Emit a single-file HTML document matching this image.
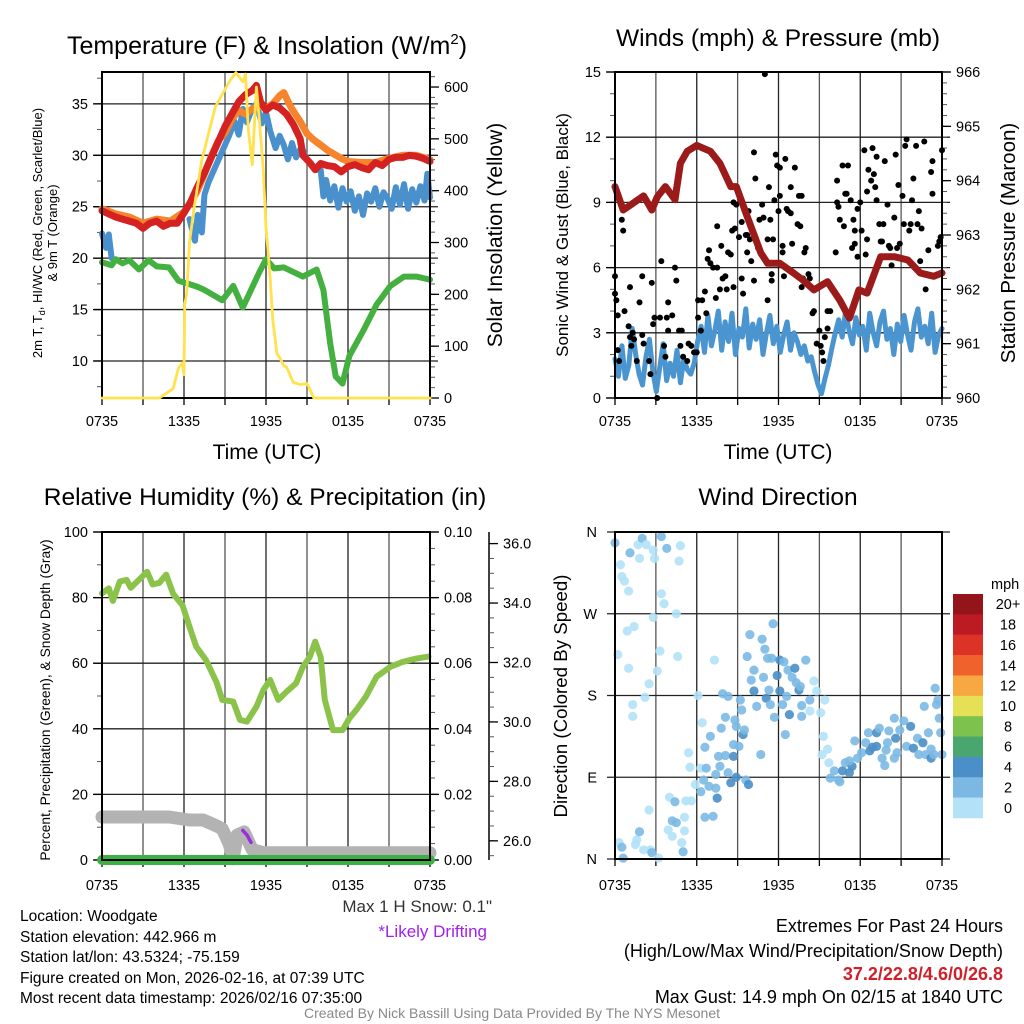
<!DOCTYPE html>
<html><head><meta charset="utf-8"><style>
body{margin:0;background:#fff}
svg{display:block;font-family:"Liberation Sans",sans-serif}
</style></head><body>
<svg id="chart" xmlns="http://www.w3.org/2000/svg" width="1024" height="1024" viewBox="0 0 1024 1024">
<text x="267" y="54" font-size="25" text-anchor="middle">Temperature (F) &amp; Insolation (W/m<tspan dy="-10" font-size="15">2</tspan><tspan dy="10">)</tspan></text>
<text x="778" y="46" font-size="24.5" text-anchor="middle">Winds (mph) &amp; Pressure (mb)</text>
<text x="265" y="505" font-size="24.5" text-anchor="middle">Relative Humidity (%) &amp; Precipitation (in)</text>
<text x="778" y="505" font-size="24.5" text-anchor="middle">Wind Direction</text>
<text x="267" y="459" font-size="21" text-anchor="middle">Time (UTC)</text>
<text x="778" y="459" font-size="21" text-anchor="middle">Time (UTC)</text>
<text transform="translate(42,233) rotate(-90)" font-size="13" text-anchor="middle">2m T, T<tspan dy="3" font-size="9">d</tspan><tspan dy="-3">, HI/WC (Red, Green, Scarlet/Blue)</tspan></text>
<text transform="translate(57,233) rotate(-90)" font-size="13" text-anchor="middle">&amp; 9m T (Orange)</text>
<text transform="translate(502,235) rotate(-90)" font-size="21" text-anchor="middle">Solar Insolation (Yellow)</text>
<text transform="translate(568,235) rotate(-90)" font-size="17" text-anchor="middle">Sonic Wind &amp; Gust (Blue, Black)</text>
<text transform="translate(1015,243) rotate(-90)" font-size="20.5" text-anchor="middle">Station Pressure (Maroon)</text>
<text transform="translate(50,700) rotate(-90)" font-size="13.8" text-anchor="middle">Percent, Precipitation (Green), &amp; Snow Depth (Gray)</text>
<text transform="translate(567,696) rotate(-90)" font-size="18.7" text-anchor="middle">Direction (Colored By Speed)</text>
<g font-size="15.5">
<text x="20" y="921">Location: Woodgate</text>
<text x="20" y="942">Station elevation: 442.966 m</text>
<text x="20" y="962">Station lat/lon: 43.5324; -75.159</text>
<text x="20" y="983">Figure created on Mon, 2026-02-16, at 07:39 UTC</text>
<text x="20" y="1003">Most recent data timestamp: 2026/02/16 07:35:00</text>
</g>
<text x="492" y="912" font-size="17" text-anchor="end" fill="#333">Max 1 H Snow: 0.1"</text>
<text x="487" y="937" font-size="17" text-anchor="end" fill="#a020f0">*Likely Drifting</text>
<g font-size="18" text-anchor="end">
<text x="1003" y="932">Extremes For Past 24 Hours</text>
<text x="1003" y="957">(High/Low/Max Wind/Precipitation/Snow Depth)</text>
<text x="1003" y="980" fill="#d0202a" font-weight="bold">37.2/22.8/4.6/0/26.8</text>
<text x="1003" y="1003">Max Gust: 14.9 mph On 02/15 at 1840 UTC</text>
</g>
<text x="512" y="1018" font-size="14" text-anchor="middle" fill="#888">Created By Nick Bassill Using Data Provided By The NYS Mesonet</text>
</svg>
<script>
const xTickLabels=["0735","1335","1935","0135","0735"];
const tempTicks=[10,15,20,25,30,35];
const solarTicks=[0,100,200,300,400,500,600];
const windTicks=[0,3,6,9,12,15];
const presTicks=[960,961,962,963,964,965,966];
const rhTicks=[0,20,40,60,80,100];
const precipTicks=[0,0.02,0.04,0.06,0.08,0.10];
const snowTicks=[26,28,30,32,34,36];
const dirTicks=[[0,"N"],[90,"E"],[180,"S"],[270,"W"],[360,"N"]];
const speedBins=["0","2","4","6","8","10","12","14","16","18","20+"];
const speedColors=["#b3e2f8","#7bb9e4","#4a8fc7","#4aa66f","#7cc24d","#e6e057","#f7a840","#f0622b","#dd3327","#bd1b24","#931519"];

const temp2m=[[0,24.6],[0.5,24.3],[1,24.0],[1.5,23.8],[2,23.6],[2.5,23.4],[3,22.9],[3.5,23.4],[4,23.6],[4.5,23.1],[5,23.4],[5.5,23.4],[6,24.4],[6.5,25.5],[7,27.0],[7.5,28.3],[8,29.8],[8.5,31.3],[9,32.8],[9.5,34.0],[10,35.2],[10.5,35.9],[11,36.3],[11.3,36.8],[11.6,35.2],[12,34.4],[12.5,34.9],[13,34.6],[13.5,34.0],[14,33.0],[14.5,31.6],[14.7,30.0],[15.2,29.3],[15.6,28.6],[16,29.2],[16.5,29.0],[17,28.9],[17.5,28.4],[18,28.9],[18.5,29.1],[19,28.8],[19.5,28.6],[20,29.3],[20.5,29.0],[21,29.6],[21.5,29.8],[22,29.8],[22.5,30.0],[23,29.9],[23.5,29.7],[24,29.4]];
const temp9m=[[0,24.8],[1,24.3],[2,24.0],[3,23.4],[4,23.8],[5,23.6],[6,24.5],[6.5,25.4],[7,26.6],[7.5,28.2],[8,29.9],[8.5,31.4],[9,32.2],[9.5,33.5],[10,34.4],[10.5,34.0],[11,34.5],[11.5,34.8],[12,34.6],[12.5,35.0],[13,35.8],[13.3,36.1],[13.7,35.0],[14,34.3],[14.5,33.3],[15,32.1],[15.5,31.5],[16,31.0],[16.5,30.5],[17,30.1],[17.5,29.7],[18,29.4],[19,29.3],[20,29.3],[21,29.7],[22,30.0],[23,30.0],[24,29.6]];
const windChillA=[[0,22.4],[0.3,21.0],[0.5,22.3],[0.7,20.0]];
const windChillB=[[6.4,23.8],[6.8,21.7],[7.0,24.2],[7.3,22.5],[7.5,26.2],[7.8,27.4],[8.0,28.0],[8.5,29.5],[9.0,31.0],[9.3,31.9],[9.7,33.3],[10,32.0],[10.3,34.5],[10.6,33.2],[11,34.6],[11.3,35.0],[11.7,33.1],[12,34.2],[12.3,32.4],[12.7,30.7],[13,31.9],[13.3,31.0],[13.6,29.6],[13.9,31.2],[14.2,29.8],[14.6,30.8],[15,29.6],[15.3,29.2],[15.6,28.6],[16.0,28.6],[16.2,26.0],[16.4,27.6],[16.7,25.6],[17,27.0],[17.3,24.9],[17.6,26.8],[17.9,25.5],[18.2,26.5],[18.5,24.6],[18.8,26.0],[19.1,24.2],[19.4,26.3],[19.7,25.5],[20,26.8],[20.3,25.0],[20.6,26.4],[20.9,25.8],[21.2,24.8],[21.5,26.9],[21.8,25.2],[22.1,27.2],[22.4,24.8],[22.7,26.7],[23,25.4],[23.3,27.0],[23.6,25.6],[23.8,28.2],[24,25.9]];
const dewpoint=[[0,19.6],[0.7,19.3],[1.0,19.9],[1.5,19.5],[2,19.8],[2.7,18.9],[3.4,19.8],[4,19.2],[4.9,19.1],[5.6,17.8],[6.3,17.5],[7,17.2],[7.5,16.9],[8.8,15.9],[9.6,17.3],[10.3,15.2],[10.9,16.9],[11.5,18.6],[12,19.9],[12.6,19.0],[13.3,19.1],[14.7,18.2],[15.7,18.9],[16.2,16.9],[16.7,11.7],[17.1,8.5],[17.6,7.8],[18.1,10.5],[19.1,12.9],[20.1,15.5],[21.1,17.3],[22.1,18.2],[23.0,18.2],[24,17.9]];
const solar=[[0,0],[4.2,0],[5.2,18],[5.6,58],[5.9,68],[6.0,45],[6.05,180],[6.2,202],[6.4,300],[6.7,360],[7.3,459],[8.3,562],[9.1,600],[9.4,614],[9.8,628],[10.3,610],[10.5,625],[10.7,520],[11.0,450],[11.3,600],[11.5,540],[11.8,440],[12.0,330],[12.3,234],[12.5,150],[12.8,86],[13.0,78],[13.3,62],[13.5,60],[14.0,30],[14.5,26],[15.0,28],[15.2,18],[15.5,0],[24,0]];

const pressure=[[0,963.89],[0.6,963.46],[1.3,963.58],[2.1,963.72],[2.7,963.46],[3.1,963.70],[3.7,963.89],[4.4,963.65],[4.8,964.32],[5.3,964.54],[6.0,964.65],[7.0,964.54],[7.7,964.32],[8.5,963.89],[8.9,963.89],[9.7,963.34],[10.7,962.67],[11.2,962.48],[12.1,962.48],[13.1,962.30],[13.8,962.17],[14.6,961.99],[15.6,962.14],[16.5,961.80],[17.2,961.47],[17.9,961.99],[18.5,961.93],[19.5,962.60],[20.5,962.60],[21.5,962.54],[22.4,962.30],[23.4,962.24],[24,962.30]];
const windSpeed=[1.8,1.0,2.4,0.9,1.5,3.2,2.0,1.1,0.6,1.9,2.7,1.2,0.3,1.4,2.5,0.8,1.6,1.0,2.2,0.7,1.8,1.3,1.1,1.6,2.6,3.3,2.1,3.8,2.4,3.1,4.0,2.2,3.5,2.6,3.9,2.0,3.2,2.8,4.1,2.3,3.4,2.7,3.6,2.0,3.0,3.8,2.5,3.3,2.1,2.9,3.5,2.2,3.0,2.6,2.0,2.4,1.7,1.9,1.2,0.6,0.2,0.9,1.5,2.3,3.0,3.6,2.8,4.0,3.1,2.5,3.7,2.9,3.3,2.2,3.9,3.0,2.4,3.5,4.0,2.7,3.2,2.0,3.4,2.6,3.8,2.9,2.2,3.5,4.1,2.8,3.3,2.5,3.9,2.1,2.9,3.2];
const gusts=[[0,5.6],[0,4.8],[0.1,4.5],[0.2,3.8],[0.5,8.2],[0.6,7.7],[0.2,2.2],[0.3,1.7],[0.7,4.0],[1.0,3.3],[1.1,5.1],[1.1,2.8],[1.2,2.4],[1.3,3.0],[1.4,2.7],[1.6,1.7],[1.8,4.4],[2.0,5.6],[2.0,2.9],[2.1,2.5],[2.5,1.7],[2.6,1.1],[2.7,5.3],[2.8,3.4],[2.9,3.7],[3.1,0],[3.3,3.7],[3.4,6.3],[3.6,2.4],[3.7,1.9],[3.8,3.7],[3.9,3.1],[3.9,4.4],[4.2,3.8],[4.4,6.0],[4.5,5.4],[4.7,3.1],[4.8,2.4],[4.9,3.1],[5.0,1.9],[5.3,1.7],[5.4,2.5],[5.6,2.4],[5.8,2.1],[6.0,2.1],[6.1,4.5],[6.1,3.7],[6.3,3.1],[6.4,4.5],[6.6,4.9],[6.7,3.9],[6.8,6.4],[6.9,6.8],[7.0,6.2],[7.2,6.0],[7.4,4.6],[7.5,6.0],[7.5,7.9],[7.7,5.0],[7.8,7.0],[7.9,5.5],[8.1,5.6],[8.2,5.0],[8.3,6.7],[8.5,6.6],[8.6,7.7],[8.7,5.1],[8.7,9.0],[8.8,7.8],[8.9,8.9],[9.1,7.4],[9.3,5.5],[9.3,8.1],[9.4,4.8],[9.6,7.5],[9.7,7.5],[9.7,6.7],[9.8,8.6],[9.9,7.3],[10.0,6.3],[10.2,5.4],[10.2,11.3],[10.3,10.1],[10.5,6.9],[10.6,8.2],[10.8,8.9],[10.9,8.3],[11.0,14.9],[11.2,7.3],[11.2,4.5],[11.3,9.7],[11.4,8.2],[11.5,5.7],[11.5,5.4],[11.6,7.3],[11.7,9.1],[11.8,11.2],[11.9,10.7],[12.0,8.6],[12.1,10.6],[12.1,9.3],[12.3,6.7],[12.3,7.0],[12.4,5.6],[12.5,11.0],[12.6,8.7],[12.7,8.6],[12.9,8.5],[12.9,9.7],[13.0,7.1],[13.2,10.6],[13.4,8.0],[13.5,9.3],[13.6,7.9],[13.7,9.3],[13.7,5.1],[13.8,5.5],[13.9,6.7],[14.0,6.9],[14.2,5.7],[14.3,5.5],[14.5,3.9],[14.6,4.0],[14.7,5.0],[14.8,2.5],[15.0,3.1],[15.1,2.4],[15.2,2.1],[15.3,1.7],[15.4,2.8],[15.6,3.2],[15.6,4.0],[15.8,4.0],[16.2,6.7],[16.3,10.0],[16.3,9.0],[16.4,8.8],[16.5,8.2],[16.7,10.7],[16.8,7.9],[16.9,9.4],[17.0,9.4],[17.1,10.7],[17.3,9.1],[17.4,6.9],[17.5,8.2],[17.6,7.7],[17.6,7.1],[17.8,8.7],[17.8,6.5],[18.0,9.0],[18.1,7.7],[18.3,11.4],[18.4,6.6],[18.5,9.5],[18.5,7.3],[18.6,10.5],[18.8,10.0],[18.9,11.5],[19.0,10.3],[19.1,9.7],[19.2,11.1],[19.2,9.1],[19.4,8.0],[19.5,7.2],[19.6,7.2],[19.7,8.0],[19.8,10.9],[20.0,8.9],[20.1,7.0],[20.2,6.9],[20.3,6.1],[20.5,8.3],[20.6,11.2],[20.7,6.9],[20.8,9.8],[20.9,7.1],[21.1,9.3],[21.2,8.0],[21.3,11.6],[21.4,11.9],[21.6,7.7],[21.7,8.0],[21.8,9.1],[21.9,10.1],[22.1,11.6],[22.2,8.0],[22.3,8.6],[22.4,6.3],[22.5,7.8],[22.7,11.8],[22.8,5.0],[23.0,6.8],[23.2,10.4],[23.3,10.9],[23.3,9.4],[23.7,7.0],[23.8,7.2],[23.9,7.4],[24.0,11.4]];

const rh=[[0,81.3],[0.5,82.8],[0.8,79.0],[1.3,84.9],[1.8,85.4],[2.1,83.0],[2.7,85.4],[3.3,87.9],[3.7,84.0],[4.2,84.5],[4.7,87.0],[5.2,81.2],[5.9,77.6],[6.4,71.1],[6.9,65.0],[7.6,61.0],[8.4,54.0],[8.8,48.8],[9.6,48.3],[10.1,42.7],[10.6,42.2],[11.3,46.7],[11.8,51.8],[12.3,54.9],[12.9,48.8],[13.5,51.3],[14.2,53.9],[14.7,58.9],[15.2,61.9],[15.6,66.6],[16.0,61.9],[16.3,48.8],[16.9,39.6],[17.6,39.6],[18.1,43.2],[18.6,45.7],[19.3,49.8],[20.1,55.9],[21.1,58.9],[22.0,60.4],[23.0,61.4],[23.9,62.0]];
const snowDepth=[[0,26.8],[4.9,26.8],[6.4,26.7],[7.4,26.7],[8.4,26.5],[8.8,26.4],[9.3,25.9],[9.6,25.4],[9.9,26.2],[10.4,26.3],[11.0,25.7],[11.8,25.6],[24,25.6]];
const drifting=[[10.3,26.35],[10.6,26.2],[10.9,25.95]];
const precip=[[0,0],[24,0]];

const windDir=[[0,348,3],[0.4,324,1],[0.5,311,1],[0.7,306,1],[1.0,295,1],[1.1,337,3],[1.7,346,1],[2.0,353,3],[2.3,346,1],[1.8,331,1],[2.8,340,1],[2.9,331,1],[3.4,355,3],[3.8,342,3],[4.8,345,1],[4.7,328,1],[3.4,292,1],[3.6,281,1],[4.5,270,1],[2.8,266,1],[0.9,251,1],[1.4,256,1],[0.2,225,1],[1.0,210,1],[3.3,229,1],[3.1,207,1],[4.6,223,1],[2.5,193,1],[2.2,178,1],[1.3,170,1],[1.3,157,1],[7.3,219,1],[0.3,18,1],[0.5,13,3],[0.6,1,3],[1.6,21,1],[1.8,30,3],[1.5,16,1],[2.1,10,1],[2.6,10,1],[2.7,7,3],[3.2,1,1],[2.5,54,1],[4.0,68,1],[4.4,63,3],[4.2,42,3],[4.5,40,3],[3.9,32,1],[4.2,25,1],[4.9,18,1],[5.0,8,3],[5.1,31,1],[5.1,46,1],[5.4,117,1],[5.5,101,1],[5.2,64,1],[5.6,64,1],[5.9,82,1],[6.3,100,1],[6.3,74,3],[6.5,87,3],[6.6,46,3],[6.7,100,3],[7.0,135,3],[6.6,123,3],[6.9,80,3],[7.2,47,3],[7.4,78,3],[7.5,67,5],[7.4,93,3],[7.6,113,3],[7.7,102,3],[7.8,144,3],[8.1,156,3],[8.1,114,3],[8.3,95,3],[8.5,84,5],[8.7,113,5],[8.9,90,5],[8.8,153,3],[8.9,146,3],[8.7,126,3],[9.1,124,3],[9.2,175,3],[9.3,164,3],[9.4,137,5],[9.5,142,3],[9.6,87,3],[9.8,82,5],[7.9,182,3],[8.3,179,3],[6.1,180,1],[6.4,150,1],[10.7,115,3],[9.9,247,3],[9.7,223,3],[10.2,208,3],[10.0,197,3],[10.2,185,5],[10.4,168,3],[10.8,242,3],[11.0,231,3],[11.2,221,3],[10.9,200,3],[11.1,177,5],[11.3,186,3],[11.4,170,3],[11.5,221,3],[11.6,259,3],[11.7,156,3],[11.9,202,5],[12.1,185,5],[12.1,219,5],[12.4,217,3],[12.3,170,3],[12.5,137,3],[12.6,179,3],[12.7,208,3],[13.0,200,3],[12.8,159,5],[13.2,210,5],[13.3,194,3],[13.5,186,5],[13.6,190,3],[13.7,169,3],[13.7,157,3],[14.0,219,3],[14.3,175,3],[14.3,163,1],[14.6,196,1],[14.8,185,1],[15.1,161,1],[15.4,175,1],[15.3,135,1],[15.6,121,1],[15.2,115,1],[15.7,106,1],[15.8,89,3],[16.1,97,3],[16.4,87,3],[16.5,85,3],[16.7,97,5],[16.9,106,3],[17.2,95,5],[17.4,102,5],[17.2,108,3],[17.6,130,3],[17.8,111,3],[18.1,117,3],[18.4,128,3],[18.6,139,3],[18.7,119,5],[18.9,123,5],[19.2,139,5],[19.2,124,5],[19.4,144,3],[19.6,111,3],[19.8,103,3],[19.9,120,3],[20.1,141,3],[20.5,155,3],[20.6,133,5],[20.7,117,3],[20.9,142,3],[21.2,152,3],[21.4,124,3],[21.7,146,5],[21.9,122,5],[22.2,133,3],[22.3,115,3],[22.6,128,5],[22.8,115,3],[23.0,139,3],[23.2,121,3],[23.2,111,5],[23.4,115,3],[23.5,188,3],[23.6,170,3],[23.7,175,3],[23.8,155,3],[23.9,139,3],[24.0,115,3],[22.7,168,3],[20.5,111,3],[20.0,128,3]];

const NS="http://www.w3.org/2000/svg";
const svg=document.getElementById('chart');
function mk(tag,attrs,parent){const e=document.createElementNS(NS,tag);for(const k in attrs)e.setAttribute(k,attrs[k]);(parent||svg).appendChild(e);return e;}
function lin(d0,d1,r0,r1){return v=>r0+(v-d0)/(d1-d0)*(r1-r0);}
const panels={
 p1:{x0:102,x1:430,y0:72,y1:398},
 p2:{x0:615,x1:942,y0:72,y1:398},
 p3:{x0:102,x1:430,y0:532,y1:860},
 p4:{x0:615,x1:942,y0:532,y1:859}
};
function frame(p,name,yTicksVals,ys,xLabelY){
  const g=mk('g',{});
  
  
  const xs=lin(0,24,p.x0,p.x1);
  for(let h=0;h<=24;h+=3){
    const l=mk('line',{x1:xs(h),x2:xs(h),y1:p.y0,y2:p.y1,stroke:(h%6==0)?'#222':'#555','stroke-width':1.3},g);
    
    
    const tk=mk('line',{x1:xs(h),x2:xs(h),y1:p.y1,y2:p.y1+7,stroke:'#000','stroke-width':1.3},g);
    
    
  }
  yTicksVals.forEach(v=>{
    const l=mk('line',{x1:p.x0-8,x2:p.x1+8,y1:ys(v),y2:ys(v),stroke:'#222','stroke-width':1.3},g);
    
    
  });
  xTickLabels.forEach((s,i)=>{
    const t=mk('text',{x:xs(i*6),y:xLabelY,'font-size':14.5,'text-anchor':'middle'},g);
    
    
    t.textContent=s;
  });
  return xs;
}
function border(p,name){
  const r=mk('rect',{x:p.x0,y:p.y0,width:p.x1-p.x0,height:p.y1-p.y0,fill:'none',stroke:'#000','stroke-width':2});
  
  
}
function yAxis(x,ys,vals,minorStep,d0,d1,side,fmt,name){
  const g=mk('g',{});
  
  
  const dir=side==='left'?-1:1;
  for(let v=d0;v<=d1+1e-9;v+=minorStep){
    const y=ys(v);
    const l=mk('line',{x1:x,x2:x+dir*5,y1:y,y2:y,stroke:'#555','stroke-width':1},g);
    
    
  }
  vals.forEach(v=>{
    const y=ys(v);
    const l=mk('line',{x1:x,x2:x+dir*9,y1:y,y2:y,stroke:'#000','stroke-width':1.3},g);
    
    
    const t=mk('text',{x:x+dir*14,y:y+5,'font-size':14.5,'text-anchor':side==='left'?'end':'start'},g);
    
    
    t.textContent=fmt(v);
  });
}
function path(pts,xs,ys,color,w,name){
  const d=pts.map((p,i)=>(i?'L':'M')+xs(p[0]).toFixed(1)+' '+ys(p[1]).toFixed(1)).join(' ');
  const e=mk('path',{d:d,fill:'none',stroke:color,'stroke-width':w,'stroke-linejoin':'round','stroke-linecap':'round'});
  
  
  return e;
}

// Panel 1
const p1=panels.p1;
const yT=lin(6.4,38.1,p1.y1,p1.y0);
const yS=lin(0,629,p1.y1,p1.y0);
const x1=frame(p1,'temp',tempTicks,yT,426);
yAxis(p1.x0,yT,tempTicks,2.5,7.5,37.5,'left',v=>String(v),'temp-y-axis');
yAxis(p1.x1,yS,solarTicks,20,0,620,'right',v=>String(v),'solar-y-axis');
path(windChillA,x1,yT,'#4a90cc',6,'windchill-line-early');
path(windChillB,x1,yT,'#4a90cc',6,'windchill-line');
path(temp9m,x1,yT,'#f5842c',7,'temp-9m-line');
path(temp2m,x1,yT,'#d42222',7,'temp-2m-line');
path(dewpoint,x1,yT,'#44b040',6,'dewpoint-line');
border(p1,'temp');
path(solar,x1,yS,'#ffe24d',2.8,'solar-line');

// Panel 2
const p2=panels.p2;
const yW=lin(0,15,p2.y1,p2.y0);
const yP=lin(960,966,p2.y1,p2.y0);
const x2=frame(p2,'wind',windTicks,yW,426);
yAxis(p2.x0,yW,windTicks,1,0,15,'left',v=>String(v),'wind-y-axis');
yAxis(p2.x1,yP,presTicks,0.2,960,966,'right',v=>String(v),'pressure-y-axis');
const wsPts=windSpeed.map((v,i)=>[i*24/(windSpeed.length-1),v]);
path(wsPts,x2,yW,'#4a95d0',5,'wind-speed-line');
const gg=mk('g',{});


gusts.forEach(g=>{
  const c=mk('circle',{cx:x2(g[0]),cy:yW(g[1]),r:3,fill:'#000'},gg);
  
  
});
path(pressure,x2,yP,'#9b1b1b',7,'pressure-line');
border(p2,'wind');

// Panel 3
const p3=panels.p3;
const yR=lin(0,100,p3.y1,p3.y0);
const yPr=lin(0,0.1,p3.y1,p3.y0);
const ySn=lin(25.355,36.39,p3.y1,p3.y0);
const x3=frame(p3,'rh',rhTicks,yR,890);
yAxis(p3.x0,yR,rhTicks,10,0,100,'left',v=>String(v),'rh-y-axis');
yAxis(p3.x1,yPr,precipTicks,0.005,0,0.1,'right',v=>v.toFixed(2),'precip-y-axis');
const sl=mk('line',{x1:489,x2:489,y1:p3.y0,y2:p3.y1,stroke:'#000','stroke-width':1.5});


yAxis(489,ySn,snowTicks,0.5,25.5,36,'right',v=>v.toFixed(1),'snow-y-axis');
path(rh,x3,yR,'#8bc34a',6,'rh-line');
path(snowDepth,x3,ySn,'#b3b3b3',13,'snow-depth-line');
path(drifting,x3,ySn,'#9a2ee0',3.5,'drifting-segment');
path(precip,x3,yPr,'#3cb043',10,'precip-line');
border(p3,'rh');

// Panel 4
const p4=panels.p4;
const yD=lin(0,360,p4.y1,p4.y0);
const x4=frame(p4,'dir',dirTicks.map(d=>d[0]),yD,890);
const dg=mk('g',{});


dirTicks.forEach(d=>{
  const t=mk('text',{x:597,y:yD(d[0])+5,'font-size':14.5,'text-anchor':'end'},dg);
  
  
  t.textContent=d[1];
});
const pg=mk('g',{});


windDir.forEach(d=>{
  const bin=Math.min(10,Math.floor(d[2]/2));
  const c=mk('circle',{cx:x4(d[0]),cy:yD(d[1]),r:4.6,fill:speedColors[bin],'fill-opacity':0.9},pg);
  
  
});
border(p4,'dir');

// colorbar
const cb=mk('g',{});


const ct=mk('text',{x:991,y:589,'font-size':14.5},cb);


ct.textContent='mph';
const bh=(818-594)/speedBins.length;
speedBins.slice().reverse().forEach((lab,i)=>{
  const idx=speedBins.length-1-i;
  const r=mk('rect',{x:953,y:594+i*bh,width:30,height:bh+0.3,fill:speedColors[idx]},cb);
  
  
  const t=mk('text',{x:1008,y:594+i*bh+bh/2+5,'font-size':14.5,'text-anchor':'middle'},cb);
  
  
  t.textContent=lab;
});
</script>
</body></html>
